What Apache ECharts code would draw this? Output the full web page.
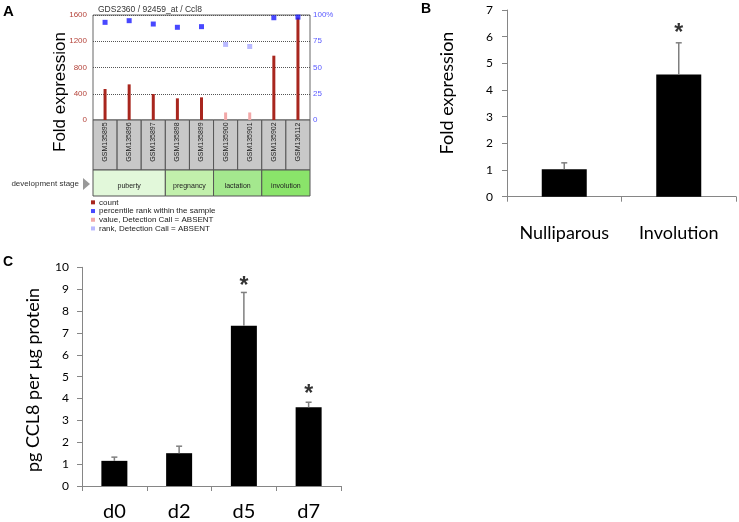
<!DOCTYPE html>
<html>
<head>
<meta charset="utf-8">
<script src="https://cdn.jsdelivr.net/npm/echarts@6/dist/echarts.min.js"></script>
<style>
  html, body { margin: 0; padding: 0; background: #fff; }
  #chart { width: 739px; height: 522px; }
</style>
</head>
<body>
<div id="chart"></div>
<script>
// panel A - GEO profile
const samples = ['GSM135895', 'GSM135896', 'GSM135897', 'GSM135898', 'GSM135899', 'GSM135900', 'GSM135901', 'GSM135902', 'GSM136112'];
const countValues = [472, 543, 396, 330, 345, 115, 115, 980, 1560];
const percentileRank = [93, 94.6, 91.4, 88.3, 88.9, 72, 70, 97.4, 98];
const absentCall = [false, false, false, false, false, true, true, false, false];
const stageNames = ['puberty', 'pregnancy', 'lactation', 'involution'];
const stageSpans = [3, 2, 2, 2];

// panel B - qPCR
const groupsB = ['Nulliparous', 'Involution'];
const meansB = [1.03, 4.58];
const errB = [0.24, 1.19];
const starB = [null, 6.3];

// panel C - ELISA
const daysC = ['d0', 'd2', 'd5', 'd7'];
const meansC = [1.15, 1.5, 7.33, 3.6];
const errC = [0.17, 0.32, 1.52, 0.23];
const starC = [null, null, 9.35, 4.42];

const stageColors = ['#e2f8da', '#c2f0ac', '#a4e88e', '#8ae46a'];
const arial = 'Liberation Sans, Arial, sans-serif';
const calibri = 'Lato, Open Sans, sans-serif';

const chart = echarts.init(document.getElementById('chart'));

// build stage ranges from spans
let pos = 0;
const stageData = stageSpans.map((s, i) => {
  const d = [pos, pos + s, i];
  pos += s;
  return d;
});

function sampleBox(params, api) {
  const c = api.coord([api.value(0), 1]);
  const b = api.coord([api.value(0), 0]);
  const w = api.size([1, 0])[0];
  return {
    type: 'group',
    children: [
      { type: 'rect', shape: { x: c[0] - w / 2, y: c[1], width: w, height: b[1] - c[1] },
        style: { fill: '#c8c8c8', stroke: '#555', lineWidth: 1 } },
      { type: 'text', x: c[0], y: c[1] + 22, rotation: Math.PI / 2,
        style: { text: samples[params.dataIndex], align: 'center', verticalAlign: 'middle',
          fontSize: 7, fontFamily: arial, fill: '#222' } }
    ]
  };
}

function stageBox(params, api) {
  const p0 = api.coord([api.value(0), 1]);
  const p1 = api.coord([api.value(1), 0]);
  const i = api.value(2);
  return {
    type: 'group',
    children: [
      { type: 'rect', shape: { x: p0[0], y: p0[1], width: p1[0] - p0[0], height: p1[1] - p0[1] },
        style: { fill: stageColors[i], stroke: '#555', lineWidth: 1 } },
      { type: 'text', x: (p0[0] + p1[0]) / 2, y: (p0[1] + p1[1]) / 2 + 3,
        style: { text: stageNames[i], align: 'center', verticalAlign: 'middle',
          fontSize: 7, fontFamily: arial, fill: '#222' } }
    ]
  };
}

function errorBar(params, api) {
  const lo = api.coord([api.value(0), api.value(1)]);
  const hi = api.coord([api.value(0), api.value(1) + api.value(2)]);
  const st = { stroke: '#7f7f7f', lineWidth: 1.5 };
  return {
    type: 'group',
    children: [
      { type: 'line', shape: { x1: lo[0], y1: lo[1], x2: hi[0], y2: hi[1] }, style: st },
      { type: 'line', shape: { x1: hi[0] - 3, y1: hi[1], x2: hi[0] + 3, y2: hi[1] }, style: st }
    ]
  };
}

function starSeries(name, xi, yi, arr) {
  return {
    name: name, type: 'scatter', xAxisIndex: xi, yAxisIndex: yi,
    symbolSize: 0, silent: true,
    data: arr.map((v, i) => (v == null ? '-' : [i, v])),
    label: { show: true, position: 'inside', formatter: '*', fontSize: 23, fontWeight: 'bold',
      fontFamily: arial, color: '#000', offset: [0, 5] }
  };
}

const barAxis = {
  axisLine: { lineStyle: { color: '#868686', width: 1 } },
  axisTick: { show: true, length: 5, lineStyle: { color: '#868686' } },
  splitLine: { show: false }
};

const option = {
  animation: false,
  backgroundColor: '#fff',
  title: {
    text: 'GDS2360 / 92459_at / Ccl8', left: 93, top: 0,
    textStyle: { fontSize: 8.5, fontWeight: 'normal', color: '#333', fontFamily: arial }
  },
  legend: {
    orient: 'vertical', left: 91, top: 198, padding: 0, itemGap: 0,
    icon: 'rect', itemWidth: 4, itemHeight: 4, selectedMode: false,
    textStyle: { fontSize: 8, lineHeight: 8.7, color: '#222', fontFamily: arial, padding: [0, 0, 0, -1] },
    data: ['count', 'percentile rank within the sample', 'value, Detection Call = ABSENT', 'rank, Detection Call = ABSENT']
  },
  grid: [
    { left: 93, top: 15, width: 217, height: 105, show: true, borderColor: '#666', borderWidth: 1 },
    { left: 93, top: 120, width: 217, height: 50 },
    { left: 93, top: 170, width: 217, height: 26 },
    { left: 507, top: 10, width: 229, height: 186.7 },
    { left: 82, top: 267.3, width: 259, height: 220 }
  ],
  xAxis: [
    { type: 'category', gridIndex: 0, data: samples, show: false },
    { type: 'category', gridIndex: 1, data: samples, show: false },
    { type: 'value', gridIndex: 2, min: 0, max: 9, show: false },
    Object.assign({ type: 'category', gridIndex: 3, data: groupsB,
      axisLabel: { interval: 0, fontSize: 18, color: '#000', fontFamily: calibri, margin: 27 } }, barAxis),
    Object.assign({ type: 'category', gridIndex: 4, data: daysC,
      axisLabel: { interval: 0, fontSize: 20, color: '#000', fontFamily: calibri, margin: 16 } }, barAxis)
  ],
  yAxis: [
    { type: 'value', gridIndex: 0, min: 0, max: 1600, interval: 400,
      axisLine: { show: false }, axisTick: { show: false },
      axisLabel: { fontSize: 8, color: '#b5443b', fontFamily: arial, margin: 6, formatter: v => String(v) },
      splitLine: { show: true, lineStyle: { type: 'dotted', color: '#555', width: 1 } } },
    { type: 'value', gridIndex: 0, position: 'right', min: 0, max: 100, interval: 25,
      axisLine: { show: false }, axisTick: { show: false },
      axisLabel: { fontSize: 8, color: '#5a5aff', fontFamily: arial, margin: 3,
        formatter: v => (v === 100 ? '100%' : String(v)) },
      splitLine: { show: false } },
    { type: 'value', gridIndex: 1, min: 0, max: 1, show: false },
    { type: 'value', gridIndex: 2, min: 0, max: 1, show: false },
    Object.assign({ type: 'value', gridIndex: 3, min: 0, max: 7, interval: 1,
      axisLabel: { fontSize: 12, color: '#000', fontFamily: calibri, margin: 14 } }, barAxis,
      { axisLine: { show: true, lineStyle: { color: '#868686' } } }),
    Object.assign({ type: 'value', gridIndex: 4, min: 0, max: 10, interval: 1,
      axisLabel: { fontSize: 12, color: '#000', fontFamily: calibri, margin: 13 } }, barAxis,
      { axisLine: { show: true, lineStyle: { color: '#868686' } } })
  ],
  graphic: [
    { type: 'text', left: 3, top: 4, style: { text: 'A', fontSize: 15, fontWeight: 'bold', fontFamily: arial, fill: '#000' } },
    { type: 'text', left: 421, top: 2, style: { text: 'B', fontSize: 14, fontWeight: 'bold', fontFamily: arial, fill: '#000' } },
    { type: 'text', left: 3, top: 255, style: { text: 'C', fontSize: 14, fontWeight: 'bold', fontFamily: arial, fill: '#000' } },
    { type: 'text', x: 60, y: 92, rotation: Math.PI / 2,
      style: { text: 'Fold expression', fontSize: 17, fontFamily: arial, fill: '#000', align: 'center', verticalAlign: 'middle' } },
    { type: 'text', x: 447, y: 93, rotation: Math.PI / 2,
      style: { text: 'Fold expression', fontSize: 18, fontFamily: calibri, fill: '#000', align: 'center', verticalAlign: 'middle' } },
    { type: 'text', x: 33, y: 380, rotation: Math.PI / 2,
      style: { text: 'pg CCL8 per μg protein', fontSize: 18, fontFamily: calibri, fill: '#000', align: 'center', verticalAlign: 'middle' } },
    { type: 'text', x: 79, y: 184,
      style: { text: 'development stage', fontSize: 8, fontFamily: arial, fill: '#333', align: 'right', verticalAlign: 'middle' } },
    { type: 'polygon', shape: { points: [[83, 178], [90, 184], [83, 190]] }, style: { fill: '#999' } }
  ],
  series: [
    { name: 'count', type: 'bar', xAxisIndex: 0, yAxisIndex: 0, barWidth: 3, barGap: '-100%',
      itemStyle: { color: '#a8261e' },
      data: countValues.map((v, i) => (absentCall[i] ? '-' : v)) },
    { name: 'value, Detection Call = ABSENT', type: 'bar', xAxisIndex: 0, yAxisIndex: 0, barWidth: 3, barGap: '-100%',
      itemStyle: { color: '#f2a8a8' },
      data: countValues.map((v, i) => (absentCall[i] ? v : '-')) },
    { name: 'percentile rank within the sample', type: 'scatter', xAxisIndex: 0, yAxisIndex: 1,
      symbol: 'rect', symbolSize: 5, itemStyle: { color: '#1a1aff' },
      data: percentileRank.map((v, i) => (absentCall[i] ? '-' : [i, v])) },
    { name: 'rank, Detection Call = ABSENT', type: 'scatter', xAxisIndex: 0, yAxisIndex: 1,
      symbol: 'rect', symbolSize: 5, itemStyle: { color: '#a8a8ff' },
      data: percentileRank.map((v, i) => (absentCall[i] ? [i, v] : '-')) },
    { type: 'custom', xAxisIndex: 1, yAxisIndex: 2, renderItem: sampleBox, silent: true,
      data: samples.map((s, i) => [i, 1]) },
    { type: 'custom', xAxisIndex: 2, yAxisIndex: 3, renderItem: stageBox, silent: true,
      data: stageData },

    { type: 'bar', xAxisIndex: 3, yAxisIndex: 4, barWidth: 45, itemStyle: { color: '#000' }, data: meansB },
    { type: 'custom', xAxisIndex: 3, yAxisIndex: 4, renderItem: errorBar, silent: true, z: 3,
      data: meansB.map((m, i) => [i, m, errB[i]]) },
    starSeries('starsB', 3, 4, starB),

    { type: 'bar', xAxisIndex: 4, yAxisIndex: 5, barWidth: 26, itemStyle: { color: '#000' }, data: meansC },
    { type: 'custom', xAxisIndex: 4, yAxisIndex: 5, renderItem: errorBar, silent: true, z: 3,
      data: meansC.map((m, i) => [i, m, errC[i]]) },
    starSeries('starsC', 4, 5, starC)
  ]
};

chart.setOption(option);
</script>
</body>
</html>
